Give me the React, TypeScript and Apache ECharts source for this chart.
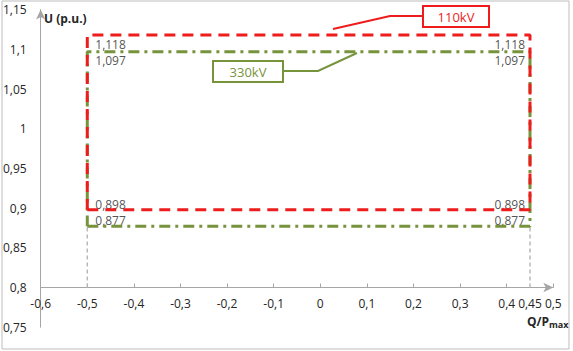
import React, { useEffect, useRef } from 'react';
import * as echarts from 'echarts';

const xMin = -0.6;
const xMax = 0.5;
const yMin = 0.75;
const yMax = 1.15;
const axisCrossU = 0.8;
const xLabelValues = [-0.6, -0.5, -0.4, -0.3, -0.2, -0.1, 0, 0.1, 0.2, 0.3, 0.4, 0.45, 0.5];
const qLimits = [-0.5, 0.45];
const u110 = [0.898, 1.118];
const u330 = [0.877, 1.097];

const RED = '#ee1c1c';
const GREEN = '#77933c';
const AXIS = '#a6a6a6';
const TXT = '#262626';
const FONT = '"Open Sans", sans-serif';

const W = 573;
const H = 351;
const GRID = { left: 40, right: 19.7, top: 9.6, bottom: 23.8 };

const fmt = (v: number) => String(Number(v.toFixed(3))).replace('.', ',');

const rect = (q: number[], u: number[]) => [
  [q[0], u[0]],
  [q[1], u[0]],
  [q[1], u[1]],
  [q[0], u[1]],
  [q[0], u[0]],
];

const labelPoints = (u: number[], dyLow: number, dyHigh: number) => [
  { value: [qLimits[0], u[1]], label: { position: [8, dyHigh], align: 'left' } },
  { value: [qLimits[1], u[1]], label: { position: [-5, dyHigh], align: 'right' } },
  { value: [qLimits[0], u[0]], label: { position: [8, dyLow], align: 'left' } },
  { value: [qLimits[1], u[0]], label: { position: [-5, dyLow], align: 'right' } },
];

export default function App() {
  const ref = useRef<HTMLDivElement>(null);
  useEffect(() => {
    if (!ref.current) return;
    const chart = echarts.init(ref.current, undefined, { renderer: 'svg' });
    const gridH = H - GRID.top - GRID.bottom;
    const xOffset = -gridH * (axisCrossU - yMin) / (yMax - yMin);
    const labelStyle = {
      show: true,
      color: TXT,
      fontSize: 12,
      fontFamily: FONT,
      verticalAlign: 'middle',
      formatter: (p: any) => fmt(p.value[1]),
    };
    chart.setOption({
      animation: false,
      grid: GRID,
      xAxis: {
        type: 'value',
        min: xMin,
        max: xMax,
        interval: 0.1,
        offset: xOffset,
        axisLine: {
          show: true,
          onZero: false,
          symbol: ['none', 'arrow'],
          symbolSize: [7, 10],
          lineStyle: { color: AXIS, width: 1 },
        },
        axisTick: { show: true, inside: true, length: 4, lineStyle: { color: AXIS } },
        splitLine: { show: false },
        axisLabel: {
          customValues: xLabelValues,
          formatter: (v: number) => fmt(v),
          color: TXT,
          fontSize: 12,
          fontFamily: FONT,
          lineHeight: 12,
          margin: 10,
        },
      },
      yAxis: {
        type: 'value',
        min: yMin,
        max: yMax,
        interval: 0.05,
        axisLine: {
          show: true,
          onZero: false,
          symbol: ['none', 'arrow'],
          symbolSize: [7, 10],
          lineStyle: { color: AXIS, width: 1 },
        },
        axisTick: { show: false },
        splitLine: { show: false },
        axisLabel: {
          formatter: (v: number) => fmt(v),
          color: TXT,
          fontSize: 12,
          fontFamily: FONT,
          margin: 14,
        },
      },
      series: [
        {
          type: 'line',
          data: [[qLimits[0], axisCrossU], [qLimits[0], u330[0]]],
          symbol: 'none',
          lineStyle: { color: '#b8b8b8', width: 1.5, type: [4, 3] },
        },
        {
          type: 'line',
          data: [[qLimits[1], axisCrossU], [qLimits[1], u330[0]]],
          symbol: 'none',
          lineStyle: { color: '#b8b8b8', width: 1.5, type: [4, 3] },
        },
        {
          type: 'line',
          data: rect(qLimits, u330),
          symbol: 'none',
          lineStyle: { color: GREEN, width: 3, type: [11, 5, 3, 5] },
        },
        {
          type: 'line',
          data: rect(qLimits, u110),
          symbol: 'none',
          lineStyle: { color: RED, width: 3, type: [11, 7] },
        },
        {
          type: 'scatter',
          symbolSize: 0,
          itemStyle: { color: 'transparent' },
          label: labelStyle,
          data: labelPoints(u110, -5, 9),
        },
        {
          type: 'scatter',
          symbolSize: 0,
          itemStyle: { color: 'transparent' },
          label: labelStyle,
          data: labelPoints(u330, -6, 9),
        },
      ],
      graphic: [
        {
          type: 'rect',
          shape: { x: 2, y: 1, width: 567, height: 348 },
          style: { fill: 'none', stroke: '#bdbdbd', lineWidth: 1 },
          silent: true,
        },
        {
          type: 'text',
          left: 44,
          top: 12,
          style: { text: 'U (p.u.)', font: `bold 12px ${FONT}`, fill: TXT },
        },
        {
          type: 'text',
          x: 527,
          y: 315,
          style: {
            text: '{a|Q/P}{b|max}',
            verticalAlign: 'top',
            rich: {
              a: { font: `bold 12px ${FONT}`, fill: TXT, lineHeight: 12, verticalAlign: 'top' },
              b: { font: `bold 9px ${FONT}`, fill: TXT, lineHeight: 9, verticalAlign: 'top', padding: [5, 0, 0, 0] },
            },
          },
        },
        {
          type: 'polyline',
          shape: { points: [[423, 16], [390, 16], [333, 29]] },
          style: { stroke: RED, lineWidth: 2, fill: 'none' },
        },
        {
          type: 'rect',
          shape: { x: 423, y: 6, width: 66, height: 21 },
          style: { fill: '#fff', stroke: RED, lineWidth: 2 },
        },
        {
          type: 'text',
          x: 456,
          y: 16.5,
          style: { text: '110kV', font: `13px ${FONT}`, fill: RED, align: 'center', verticalAlign: 'middle' },
        },
        {
          type: 'polyline',
          shape: { points: [[283, 71], [318, 71], [357, 53]] },
          style: { stroke: GREEN, lineWidth: 2, fill: 'none' },
        },
        {
          type: 'rect',
          shape: { x: 213, y: 61, width: 70, height: 21 },
          style: { fill: '#fff', stroke: GREEN, lineWidth: 2 },
        },
        {
          type: 'text',
          x: 248,
          y: 71.5,
          style: { text: '330kV', font: `13px ${FONT}`, fill: GREEN, align: 'center', verticalAlign: 'middle' },
        },
      ],
    });
    return () => chart.dispose();
  }, []);
  return (
    <div
      ref={ref}
      style={{ position: 'fixed', left: 0, top: 0, width: W, height: H, background: '#fff' }}
    />
  );
}
